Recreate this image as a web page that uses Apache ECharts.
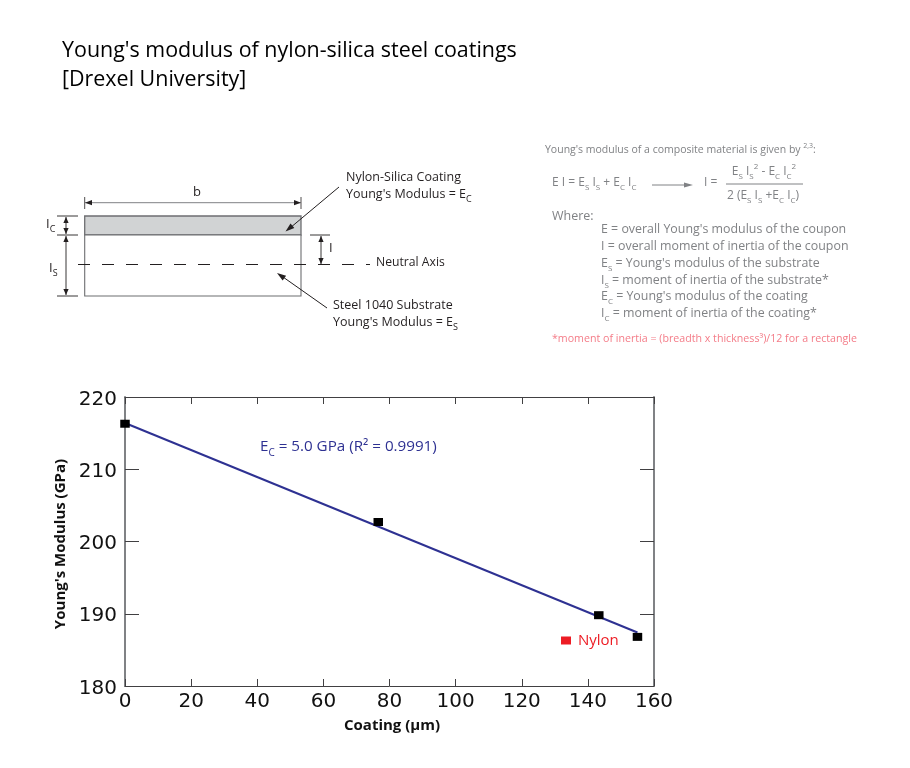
<!DOCTYPE html>
<html><head><meta charset="utf-8">
<style>html,body{margin:0;padding:0;background:#fff}#c{width:910px;height:768px}</style>
<script src="https://cdn.jsdelivr.net/npm/echarts@6/dist/echarts.min.js"></script>
</head><body><div id="c"></div>
<script>
const coatingUm = [0, 76.6, 143.3, 155.0];
const modulusGPa = [216.3, 202.7, 189.8, 186.8];
const fitX = [0, 155];
const fitY = [216.4, 187.4];
const xTicks = {min: 0, max: 160, step: 20};
const yTicks = {min: 180, max: 220, step: 10};
const FONT = 'Open Sans';
const DARK = '#231f20', GRAY = '#808285', NAVY = '#2e3192', PINK = '#f47c88', RED = '#ed1c24';

function richText(x, y, str, size, color, weight, align) {
  const toks = str.split(/(_\{[^}]*\}|\^\{[^}]*\})/).filter(Boolean);
  const text = toks.map(s => s[0]==='_' ? '{sub|'+s.slice(2,-1)+'}' : s[0]==='^' ? '{sup|'+s.slice(2,-1)+'}' : '{m|'+s+'}').join('');
  const lh = Math.round(size*1.5), sm = Math.round(size*0.68);
  return {type:'text', x, y:y+1, silent:true, style:{text, textAlign:align||'left', textVerticalAlign:'middle', verticalAlign:'middle',
    rich:{
      m:{fontFamily:FONT,fontSize:size,fill:color,color,fontWeight:weight||'normal',lineHeight:lh},
      sub:{fontFamily:FONT,fontSize:sm,fill:color,color,lineHeight:sm+1,verticalAlign:'bottom'},
      sup:{fontFamily:FONT,fontSize:sm,fill:color,color,lineHeight:sm+1,verticalAlign:'top'}
    }}};
}
const ln = (x1,y1,x2,y2,stroke,w,dash) => ({type:'line',silent:true,shape:{x1,y1,x2,y2},style:{stroke,lineWidth:w||1,lineDash:dash||null}});
function head(x,y,dx,dy,color,len,wid){
  const L=Math.hypot(dx,dy),ux=dx/L,uy=dy/L,l=len||7,w=wid||2.6;
  return {type:'polygon',silent:true,shape:{points:[[x,y],[x-ux*l-uy*w,y-uy*l+ux*w],[x-ux*l+uy*w,y-uy*l-ux*w]]},style:{fill:color}};
}
const diagram = [
  {type:'rect',silent:true,shape:{x:84.7,y:216,width:216.3,height:19},style:{fill:'#d1d3d4',stroke:'#6d6e71',lineWidth:1.3}},
  {type:'rect',silent:true,shape:{x:84.7,y:235,width:216.3,height:61},style:{fill:'#fff',stroke:'#6d6e71',lineWidth:1.1}},
  ln(84.7,197,84.7,209,DARK,.8), ln(301,197,301,209,DARK,.8),
  ln(85,202.7,301,202.7,'#808285',1), head(85,202.7,-1,0,DARK), head(301,202.7,1,0,DARK),
  ln(57,216,78,216,DARK,.9), ln(57,235,78,235,DARK,.9), ln(57,296,78,296,DARK,.9),
  ln(66,217,66,234,DARK,.9), head(66,217,0,-1,DARK,6), head(66,234,0,1,DARK,6),
  ln(66,236,66,295,DARK,.9), head(66,236,0,-1,DARK,6), head(66,295,0,1,DARK,6),
  ln(310,235,330,235,DARK,.9), ln(318,264.5,330,264.5,DARK,.9),
  ln(321,236,321,264,DARK,.9), head(321,236,0,-1,DARK,6), head(321,264,0,1,DARK,6),
  ln(78,264.5,370,264.5,DARK,1,[12,12]),
  ln(339,187,290,228,DARK,1), head(285.5,231.5,-53,44,DARK,9,3),
  ln(327,308,283,277,DARK,1), head(277,273,-50,-35,DARK,9,3),
  richText(193,191,'b',13,DARK),
  richText(46,223,'I_{C}',13,DARK),
  richText(49,267,'I_{S}',13,DARK),
  richText(329,247,'I',13,DARK),
  richText(376,262,'Neutral Axis',12.2,DARK),
  richText(346,176,'Nylon-Silica Coating',12.5,DARK),
  richText(346,193,"Young's Modulus = E_{C}",12.5,DARK),
  richText(333,304,'Steel 1040 Substrate',12.5,DARK),
  richText(333,321,"Young's Modulus = E_{S}",12.5,DARK)
];
const notes = [
  richText(62,50,"Young's modulus of nylon-silica steel coatings",21.45,'#000'),
  richText(62,79,'[Drexel University]',21.45,'#000'),
  richText(545,149,"Young's modulus of a composite material is given by ^{2,3}:",10.5,GRAY),
  richText(552,182,'E I = E_{S} I_{S} + E_{C} I_{C}',12,GRAY),
  ln(652,185,688,185,GRAY,1), head(693,185,1,0,GRAY,9,2.6),
  richText(704,182,'I =',12,GRAY),
  richText(764,171,'E_{S} I_{S}^{2} - E_{C} I_{C}^{2}',12,GRAY,'normal','center'),
  ln(726,184,803,184,GRAY,1),
  richText(763,195,'2 (E_{S} I_{S} +E_{C} I_{C})',12,GRAY,'normal','center'),
  richText(552,215,'Where:',12.5,GRAY),
  richText(601,228,"E = overall Young's modulus of the coupon",12.4,GRAY),
  richText(601,245,'I = overall moment of inertia of the coupon',12.4,GRAY),
  richText(601,262,"E_{S} = Young's modulus of the substrate",12.4,GRAY),
  richText(601,279,'I_{S} = moment of inertia of the substrate*',12.4,GRAY),
  richText(601,295,"E_{C} = Young's modulus of the coating",12.4,GRAY),
  richText(601,312,'I_{C} = moment of inertia of the coating*',12.4,GRAY),
  richText(552,338,'*moment of inertia = (breadth x thickness³)/12 for a rectangle',10.65,PINK),
  richText(260,446,'E_{C} = 5.0 GPa (R² = 0.9991)',15.2,NAVY)
];
const axisLabel = {fontFamily:'DejaVu Sans',fontSize:20,color:'#111'};
const chart = echarts.init(document.getElementById('c'),null,{renderer:'canvas'});
chart.setOption({
  animation:false, backgroundColor:'#fff',
  grid:{left:125,right:256,top:397,bottom:82,containLabel:false},
  legend:{show:true,left:561,top:633,padding:0,selectedMode:false,icon:'rect',itemWidth:10,itemHeight:8,
    data:[{name:'Nylon',itemStyle:{color:RED,opacity:1}}],
    textStyle:{color:RED,fontFamily:FONT,fontSize:15,padding:[2,0,0,2]}},
  xAxis:[
    {type:'value',min:xTicks.min,max:xTicks.max,interval:xTicks.step,position:'bottom',splitLine:{show:false},
     axisLine:{onZero:false,lineStyle:{color:'#414042',width:1}},axisTick:{inside:true,length:7,lineStyle:{color:'#414042'}},
     axisLabel:{...axisLabel,margin:6,showMinLabel:true,showMaxLabel:true},
     name:'Coating (µm)',nameLocation:'middle',nameGap:32,nameTextStyle:{fontFamily:FONT,fontSize:15,fontWeight:'bold',color:'#111',padding:[0,0,0,5]}},
    {type:'value',min:xTicks.min,max:xTicks.max,interval:xTicks.step,position:'top',splitLine:{show:false},
     axisLine:{onZero:false,lineStyle:{color:'#414042',width:1}},axisTick:{inside:true,length:7,lineStyle:{color:'#414042'}},axisLabel:{show:false}}
  ],
  yAxis:[
    {type:'value',min:yTicks.min,max:yTicks.max,interval:yTicks.step,position:'left',splitLine:{show:false},
     axisLine:{onZero:false,lineStyle:{color:'#808285',width:2}},axisTick:{inside:true,length:14,lineStyle:{color:'#414042'}},
     axisLabel:{...axisLabel,margin:8,verticalAlign:'top',lineHeight:5},
     name:"Young's Modulus (GPa)",nameLocation:'middle',nameGap:57,nameTextStyle:{fontFamily:FONT,fontSize:15,fontWeight:'bold',color:'#111',padding:[0,5,0,0]}},
    {type:'value',min:yTicks.min,max:yTicks.max,interval:yTicks.step,position:'right',splitLine:{show:false},
     axisLine:{onZero:false,lineStyle:{color:'#808285',width:2}},axisTick:{inside:true,length:14,lineStyle:{color:'#414042'}},axisLabel:{show:false}}
  ],
  series:[
    {name:'Fit',type:'line',data:fitX.map((x,i)=>[x,fitY[i]]),showSymbol:false,symbol:'none',lineStyle:{color:NAVY,width:2},silent:true,z:2},
    {name:'Nylon',type:'scatter',data:coatingUm.map((x,i)=>[x,modulusGPa[i]]),symbol:'rect',symbolSize:[9.5,8],itemStyle:{color:'#000',opacity:1},clip:false,z:3}
  ],
  graphic:{elements:[...diagram,...notes]}
});
</script></body></html>
